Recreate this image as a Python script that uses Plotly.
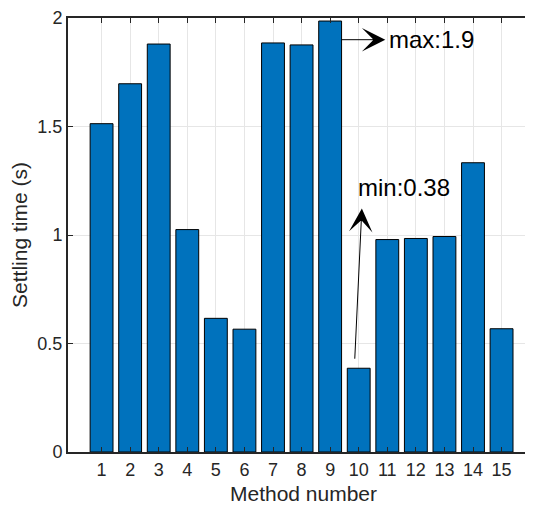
import plotly.graph_objects as go

methods = list(range(1, 16))
settling = [1.513, 1.697, 1.880, 1.025, 0.616, 0.566, 1.885, 1.876, 1.986, 0.386, 0.979, 0.984, 0.993, 1.333, 0.568]
ytick_vals = [0, 0.5, 1, 1.5, 2]
ytick_text = ["0", "0.5", "1", "1.5", "2"]
max_label = "max:1.9"
min_label = "min:0.38"

FONT = "Arial, Liberation Sans, sans-serif"
DARK = "#262626"

fig = go.Figure()
fig.add_trace(go.Bar(
    x=methods, y=settling, width=0.8,
    marker=dict(color="#0072BD", line=dict(color="#000000", width=1)),
))

# arrows (text-less) and labels
fig.add_annotation(x=10.93, y=1.90, ax=9.34, ay=1.90, xref="x", yref="y", axref="x", ayref="y",
                   text="", showarrow=True, arrowhead=3, arrowsize=3.9, arrowwidth=1, arrowcolor="#000")
fig.add_annotation(x=11.0, y=1.90, xref="x", yref="y", text=max_label, showarrow=False,
                   xanchor="left", yanchor="middle", font=dict(family=FONT, size=24, color="#000"))
fig.add_annotation(x=10.11, y=1.122, ax=9.86, ay=0.423, xref="x", yref="y", axref="x", ayref="y",
                   text="", showarrow=True, arrowhead=3, arrowsize=3.9, arrowwidth=1, arrowcolor="#000")
fig.add_annotation(x=9.9, y=1.218, xref="x", yref="y", text=min_label, showarrow=False,
                   xanchor="left", yanchor="middle", font=dict(family=FONT, size=24, color="#000"))

fig.update_layout(
    width=533, height=503,
    margin=dict(l=60, r=0, t=9, b=59),
    plot_bgcolor="white", paper_bgcolor="white",
    showlegend=False,
    font=dict(family=FONT, color=DARK, size=18),
    xaxis=dict(
        range=[-0.175, 16.31], tickvals=methods, ticks="inside", ticklen=5, tickcolor=DARK,
        showline=True, linecolor=DARK, linewidth=2, mirror="allticks",
        showgrid=True, gridcolor="#e6e6e6", gridwidth=1, zeroline=False,
        title=dict(text="Method number", font=dict(size=21, color=DARK), standoff=8),
        tickfont=dict(size=18, color=DARK),
    ),
    yaxis=dict(
        range=[0, 2], tickvals=ytick_vals, ticktext=ytick_text, ticks="inside", ticklen=5, tickcolor=DARK,
        showline=True, linecolor=DARK, linewidth=2, mirror="allticks",
        showgrid=True, gridcolor="#e6e6e6", gridwidth=1, zeroline=False,
        ticklabeloverflow="allow",
        title=dict(text="Settling time (s)", font=dict(size=21, color=DARK), standoff=4),
        tickfont=dict(size=18, color=DARK),
    ),
)

fig.write_html("out.html")
